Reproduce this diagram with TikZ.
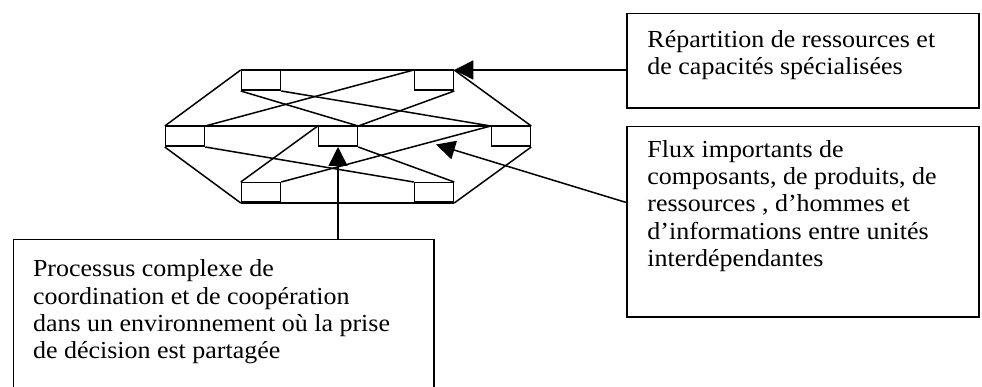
\documentclass[tikz,border=0pt]{standalone}
\usepackage{fontspec}
\setmainfont{Liberation Serif}
\newfontfamily\boxfont[FakeStretch=1.06]{Liberation Serif}
\usetikzlibrary{arrows.meta,calc}
\begin{document}
\begin{tikzpicture}[x=1pt,y=-1pt,
  line width=1.5pt,
  unit/.style={draw,rectangle,minimum width=39pt,minimum height=19.5pt,inner sep=0pt,line width=1.5pt},
  callout/.style={draw,rectangle,anchor=north west,inner sep=0pt,line width=1.5pt},
  txt/.style={anchor=base west,align=left,inner sep=0pt,font=\boxfont\fontsize{24.5}{27.3}\selectfont},
  arr/.style={-{Triangle[length=19pt,width=19pt]},line width=1.5pt}]
\useasboundingbox (0,0) rectangle (982,387);
\clip (0,0) rectangle (982,387);
% units
\node[unit] (TL) at (261,80.5) {};
\node[unit] (TR) at (434,80.5) {};
\node[unit] (ML) at (185,136.5) {};
\node[unit] (MC) at (338,136.5) {};
\node[unit] (MR) at (511,136.5) {};
\node[unit] (BL) at (261,192.5) {};
\node[unit] (BR) at (434,192.5) {};
% frame lines
\draw (TL.north west) -- (TR.north east);
\draw (ML.north west) -- (MR.north east);
\draw (BL.south west) -- (BR.south east);
\draw (ML.north west) -- (TL.north west);
\draw (ML.south west) -- (BL.south west);
\draw (TR.north east) -- (MR.north east);
\draw (MR.south east) -- (BR.south east);
% crossings
\draw (TL.south west) -- (MC.north east);
\draw (TL.south east) -- (MR.north west);
\draw (TR.north west) -- (ML.north east);
\draw (TR.south east) -- (MC.north east);
\draw (ML.south east) -- (BR.north west);
\draw (MC.south east) -- (BR.north east);
\draw (BL.north west) -- (MC.north west);
\draw (BL.north east) -- (MR.north west);
% callout boxes
\node[callout,minimum width=352pt,minimum height=94.6pt] (b1) at (626,12.7) {};
\node[callout,minimum width=352pt,minimum height=190.3pt] (b2) at (626,125.7) {};
\node[callout,minimum width=420.6pt,minimum height=170pt] (b3) at (12.7,239) {};
% texts (base = last line's baseline)
\node[txt] (t1) at (646.7,74.6) {Répartition de ressources et\\de capacités spécialisées};
\node[txt] (t2) at (646.7,266.5) {Flux importants de\\composants, de produits, de\\ressources , d’hommes et\\d’informations entre unités\\interdépendantes};
\node[txt] (t3) at (32.3,358.6) {Processus complexe de\\coordination et de coopération\\dans un environnement où la prise\\de décision est partagée};
% arrows
\coordinate (fluxtip) at (436,144.5);
\draw[arr] (b1.west |- TR.north east) -- (TR.north east);
\draw[arr] ($(b2.north west)!0.4!(b2.south west)$) -- (fluxtip);
\draw[arr] (MC.south |- b3.north) -- (MC.south);
\end{tikzpicture}
\end{document}
